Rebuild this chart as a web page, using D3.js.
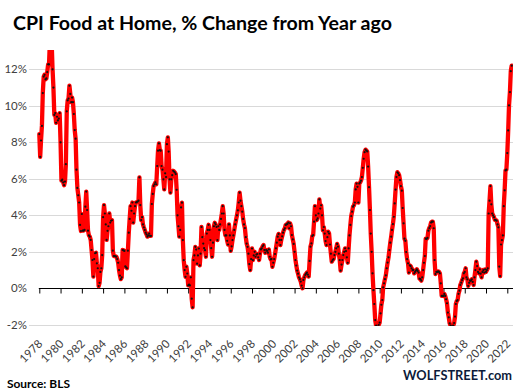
<!DOCTYPE html>
<html><head><meta charset="utf-8">
<script src="https://cdn.jsdelivr.net/npm/d3@7"></script>
<style>body{margin:0;background:#fff}svg{display:block}</style>
</head><body><svg id="c" width="518" height="392"></svg>
<script>
// ---- data: CPI Food at Home, % change from year ago, monthly from Jan 1978 ----
const startYear = 1978;
const values1978_1979 = [
  8.45, 7.2, 8.1, 8.9, 10.7, 11.6, 11.7, 11.45, 11.5, 11.85, 12.27, 12.27,
  13.6, 13.9, 13.5, 12.0, 11.0, 9.5, 9.6, 9.07, 9.4, 9.2, 9.3, 9.6
];
const values1980s = [
  8.0, 5.9, 5.95, 5.8, 5.65, 5.85, 6.8, 9.7, 10.3, 10.4, 11.1, 10.65,
  10.2, 10.45, 10.2, 9.55, 8.67, 8.2, 6.5, 5.5, 5.1, 4.7, 3.47, 3.14,
  4.07, 3.16, 3.16, 3.2, 4.47, 5.3, 4.29, 3.16, 2.9, 2.83, 2.65, 2.1,
  1.55, 0.64, 1.6, 1.92, 1.95, 1.37, 1.1, 0.12, 0.3, 0.9, 1.1, 1.82,
  3.9, 4.56, 4.1, 3.5, 2.65, 3.15, 3.4, 4.1, 3.6, 3.7, 3.73, 2.06,
  1.77, 1.77, 1.75, 1.73, 1.6, 1.4, 1.0, 0.7, 0.5, 0.6, 2.1, 2.08,
  2.05, 1.2, 1.15, 1.1, 2.06, 3.05, 3.8, 4.5, 4.25, 4.7, 3.6, 4.1,
  4.5, 4.7, 4.72, 4.75, 4.8, 6.08, 4.56, 3.74, 3.9, 3.5, 3.34, 3.2,
  3.05, 2.95, 2.83, 2.9, 3.0, 2.87, 2.87, 4.62, 5.17, 5.6, 5.7, 5.8,
  5.7, 6.7, 7.54, 7.94, 7.57, 7.54, 6.7, 6.5, 5.97, 5.42, 6.3, 6.1
];
const values1990s = [
  7.9, 8.27, 7.49, 5.97, 5.24, 5.97, 6.2, 6.44, 6.4, 6.35, 6.26, 5.4,
  4.0, 3.4, 2.83, 3.2, 4.43, 4.69, 2.64, 1.54, 1.0, 0.63, 1.18, 0.81,
  0.16, 0.2, 0.16, 0.6, -0.57, -1.04, 1.54, 1.8, 2.27, 2.12, 1.35, 1.8,
  2.18, 1.26, 1.9, 3.36, 2.8, 2.45, 2.2, 2.09, 1.73, 3.0, 3.2, 3.48,
  3.2, 2.64, 2.2, 1.73, 2.5, 3.4, 3.59, 3.5, 3.36, 2.64, 3.4, 3.2,
  3.5, 3.8, 4.1, 4.5, 4.1, 3.2, 2.9, 2.9, 2.6, 2.4, 3.5, 2.9,
  2.05, 2.3, 2.64, 2.9, 3.2, 3.5, 3.74, 4.0, 4.27, 4.7, 5.24, 4.8,
  4.5, 4.2, 3.8, 3.5, 3.3, 2.8, 2.45, 2.27, 1.9, 1.33, 1.0, 1.6,
  2.18, 1.54, 1.8, 2.0, 1.73, 1.85, 1.88, 1.7, 1.55, 1.9, 2.13, 2.19,
  2.3, 2.37, 2.1, 1.95, 2.1, 2.05, 1.95, 2.13, 1.73, 1.59, 1.6, 1.18
];
const values2000s = [
  1.4, 1.6, 1.88, 2.19, 2.5, 2.83, 2.98, 2.65, 2.37, 2.65, 2.85, 3.05,
  3.2, 3.29, 3.47, 3.5, 3.53, 3.6, 3.29, 3.56, 3.4, 2.92, 2.68, 2.43,
  2.0, 1.55, 1.25, 0.97, 0.8, 0.6, 0.5, 0.37, 0.15, 0.0, 0.46, 0.6,
  0.73, 0.8, 0.86, 0.75, 0.64, 1.5, 2.28, 2.46, 2.86, 2.92, 3.65, 4.5,
  4.0, 3.74, 3.83, 4.1, 4.87, 4.37, 4.55, 4.0, 3.18, 3.36, 3.0, 2.59,
  2.37, 2.8, 3.1, 3.0, 2.4, 1.9, 1.46, 1.55, 1.6, 1.82, 2.0, 2.19,
  2.43, 2.28, 1.9, 1.55, 0.97, 1.3, 1.55, 1.82, 2.0, 2.19, 2.04, 1.7,
  1.4, 2.19, 2.9, 3.47, 3.96, 4.2, 4.47, 4.55, 4.7, 5.42, 5.74, 5.56,
  4.7, 5.74, 5.8, 5.9, 6.1, 6.6, 7.1, 7.46, 7.6, 7.55, 7.5, 6.67,
  5.54, 4.29, 3.0, 2.0, 0.82, -0.1, -0.86, -1.74, -2.05, -2.1, -2.1, -2.0
];
const values2010s = [
  -1.88, -1.37, -0.9, -0.64, 0.05, 0.27, 0.5, 0.71, 1.1, 1.41, 1.7, 2.1,
  2.5, 2.83, 3.2, 3.52, 3.92, 4.65, 5.41, 6.1, 6.36, 6.3, 6.2, 5.93,
  5.6, 5.35, 4.4, 3.56, 2.72, 2.6, 1.99, 1.6, 1.37, 0.86, 1.26, 1.22,
  1.1, 1.0, 1.0, 0.82, 0.9, 0.97, 1.04, 0.95, 0.86, 0.53, 0.5, 0.42,
  0.6, 1.0, 1.4, 1.77, 2.72, 2.7, 2.76, 3.16, 3.3, 3.41, 3.6, 3.65,
  3.65, 3.29, 1.55, 0.78, 0.9, 0.9, 0.93, 0.9, 0.82, 0.27, -0.42, -0.42,
  -0.42, -0.31, -0.42, -0.6, -0.82, -1.33, -1.59, -1.92, -2.05, -2.1, -2.1, -2.05,
  -1.9, -1.55, -0.86, -0.7, -0.64, -0.3, -0.13, 0.18, 0.31, 0.45, 0.55, 0.82,
  0.9, 1.1, 0.6, 0.49, 0.13, 0.3, 0.42, 0.42, 0.49, 0.35, 0.18, 0.6,
  1.0, 1.46, 1.22, 0.9, 0.82, 1.04, 0.8, 0.6, 0.9, 1.0, 0.86, 1.04
];
const values2020s = [
  0.9, 1.0, 1.1, 4.1, 4.8, 5.6, 4.6, 4.1, 4.0, 3.9, 3.75, 3.74,
  3.7, 3.5, 3.34, 1.19, 0.67, 2.4, 2.64, 2.9, 4.5, 5.37, 6.46, 6.5,
  7.41, 8.65, 10.02, 10.75, 11.9, 12.2
];
const yTickValues = [-2, 0, 2, 4, 6, 8, 10, 12];
const xTickYears = d3.range(1978, 2023, 2);
const titleText = "CPI Food at Home, % Change from Year ago";
const sourceText = "Source: BLS";
const brandText = "WOLFSTREET.com";

// ---- build series ----
const allValues = [].concat(values1978_1979, values1980s, values1990s, values2000s, values2010s, values2020s);
const series = allValues.map((v, i) => ({date: new Date(startYear, i, 1), value: v}));

const svg = d3.select("#c");
const FONT = "Lato, 'Open Sans', sans-serif";

const x = d3.scaleTime()
  .domain([new Date(1978, 0, 1), new Date(2022, 0, 1)])
  .range([39.3, 507.3]);
const y = d3.scaleLinear().domain([-2, 12]).range([324.8, 69.3]);

const plotLeft = 29, plotRight = 513, plotTop = 50, plotBottom = 326;

// gridlines
svg.append("g").selectAll("line")
  .data(yTickValues.filter(d => d !== 0))
  .join("line")
  .attr("x1", plotLeft).attr("x2", plotRight)
  .attr("y1", d => Math.round(y(d)) + 0.5).attr("y2", d => Math.round(y(d)) + 0.5)
  .attr("stroke", "#d9d9d9").attr("stroke-width", 1);

// y axis labels
const yAxis = d3.axisLeft(y).tickValues(yTickValues).tickSize(0).tickPadding(2)
  .tickFormat(d => d + "%");
const gy = svg.append("g").attr("transform", `translate(${plotLeft},0)`).call(yAxis);
gy.select(".domain").remove();
gy.selectAll("text").attr("font-family", FONT).attr("font-size", 11.5).attr("fill", "#404040");

// x axis at 0%
const y0 = Math.round(y(0)) + 0.5;
const xAxis = d3.axisBottom(x)
  .tickValues(xTickYears.map(yr => new Date(yr, 0, 1)))
  .tickSize(5).tickFormat("");
const gx = svg.append("g").attr("transform", `translate(0,${y0})`).call(xAxis);
gx.select(".domain").remove();
gx.selectAll(".tick line").attr("stroke", "#000").attr("stroke-width", 1);
gx.append("line").attr("x1", x.range()[0] - 0.5).attr("x2", plotRight)
  .attr("y1", 0).attr("y2", 0).attr("stroke", "#000").attr("stroke-width", 1.2);

// x labels, rotated
svg.append("g").selectAll("text")
  .data(xTickYears)
  .join("text")
  .attr("transform", d => `translate(${x(new Date(d, 0, 1)) + 1},${y(-2) + 17}) rotate(-45)`)
  .attr("text-anchor", "end")
  .attr("dy", "0.35em")
  .attr("font-family", FONT).attr("font-size", 11.5).attr("fill", "#404040")
  .text(d => d);

// clip
svg.append("clipPath").attr("id", "plotclip")
  .append("rect").attr("x", plotLeft).attr("y", plotTop)
  .attr("width", plotRight - plotLeft).attr("height", plotBottom - plotTop);

const g = svg.append("g").attr("clip-path", "url(#plotclip)");
const line = d3.line().x(d => x(d.date)).y(d => y(d.value));
g.append("path").datum(series)
  .attr("d", line).attr("fill", "none")
  .attr("stroke", "#ff0000").attr("stroke-width", 4.3)
  .attr("stroke-linejoin", "round").attr("stroke-linecap", "round");
g.append("g").selectAll("circle").data(series).join("circle")
  .attr("cx", d => x(d.date)).attr("cy", d => y(d.value))
  .attr("r", 1.1).attr("fill", "#111");

// texts with width fitting
function fitText(sel, targetW) {
  const node = sel.node();
  const w = node.getComputedTextLength();
  const fs = parseFloat(sel.attr("font-size"));
  sel.attr("font-size", fs * targetW / w);
}
const t = svg.append("text").attr("x", 13).attr("y", 29.5)
  .attr("font-family", FONT).attr("font-weight", "bold").attr("font-size", 18)
  .attr("fill", "#000").text(titleText);
fitText(t, 379);

const s = svg.append("text").attr("x", 7).attr("y", 388)
  .attr("font-family", FONT).attr("font-weight", "bold").attr("font-size", 13)
  .attr("fill", "#000").text(sourceText);
fitText(s, 63);

const b = svg.append("text").attr("x", 512).attr("y", 380).attr("text-anchor", "end")
  .attr("font-family", FONT).attr("font-weight", "bold").attr("font-size", 14)
  .attr("fill", "#0c1a3a").text(brandText);
fitText(b, 109);
</script>
</body></html>
